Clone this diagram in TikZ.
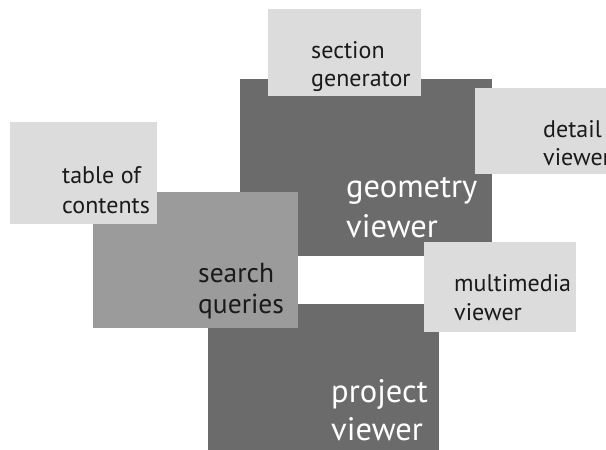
\documentclass[tikz,border=0pt]{standalone}
\usepackage{fontspec}
\setmainfont{PT Sans}
\definecolor{darkbox}{HTML}{6B6B6B}
\definecolor{midbox}{HTML}{9B9B9B}
\definecolor{lightbox}{HTML}{DCDCDC}
\definecolor{ink}{HTML}{1A1A1A}
\begin{document}
\begin{tikzpicture}[x=1pt,y=-1pt,
  box/.style={inner sep=0pt, outer sep=0pt, anchor=north west, draw=none},
  lbl/.style={inner sep=0pt, anchor=base west, text=ink, font=\fontsize{24}{28}\selectfont},
  mlbl/.style={inner sep=0pt, anchor=base west, text=ink, font=\fontsize{27.5}{32}\selectfont},
  wlbl/.style={inner sep=0pt, anchor=base west, text=white, font=\fontsize{32.5}{38}\selectfont}]
\clip (0,0) rectangle (606,450);
\fill[white] (0,0) rectangle (606,450);
% boxes (back to front)
\node[box, fill=darkbox, minimum width=252pt, minimum height=177pt] (geo) at (240,79) {};
\node[box, fill=darkbox, minimum width=231pt, minimum height=150pt] (proj) at (208,304) {};
\node[box, fill=lightbox, minimum width=153pt, minimum height=87pt] (sec) at (268,9) {};
\node[box, fill=lightbox, minimum width=135pt, minimum height=86pt] (det) at (475,88) {};
\node[box, fill=lightbox, minimum width=152pt, minimum height=90pt] (multi) at (424,242) {};
\node[box, fill=midbox, minimum width=205pt, minimum height=136pt] (search) at (93,192) {};
\node[box, fill=lightbox, minimum width=147pt, minimum height=102pt] (toc) at (10,122) {};
% labels
\node[lbl] (sec1) at (311,58) {section};
\node[lbl] (sec2) at (311,86) {generator};
\node[lbl] (det1) at (543,137) {detail};
\node[lbl] (det2) at (543,165) {viewer};
\node[lbl] (toc1) at (62,183) {table of};
\node[lbl] (toc2) at (62,213) {contents};
\node[lbl] (mul1) at (454,291) {multimedia};
\node[lbl] (mul2) at (454,320) {viewer};
\node[mlbl] (sea1) at (198,282) {search};
\node[mlbl] (sea2) at (198,313) {queries};
\node[wlbl] (geo1) at (346,197) {geometry};
\node[wlbl] (geo2) at (346,237) {viewer};
\node[wlbl] (pro1) at (331,402) {project};
\node[wlbl] (pro2) at (331,440) {viewer};
\end{tikzpicture}
\end{document}
